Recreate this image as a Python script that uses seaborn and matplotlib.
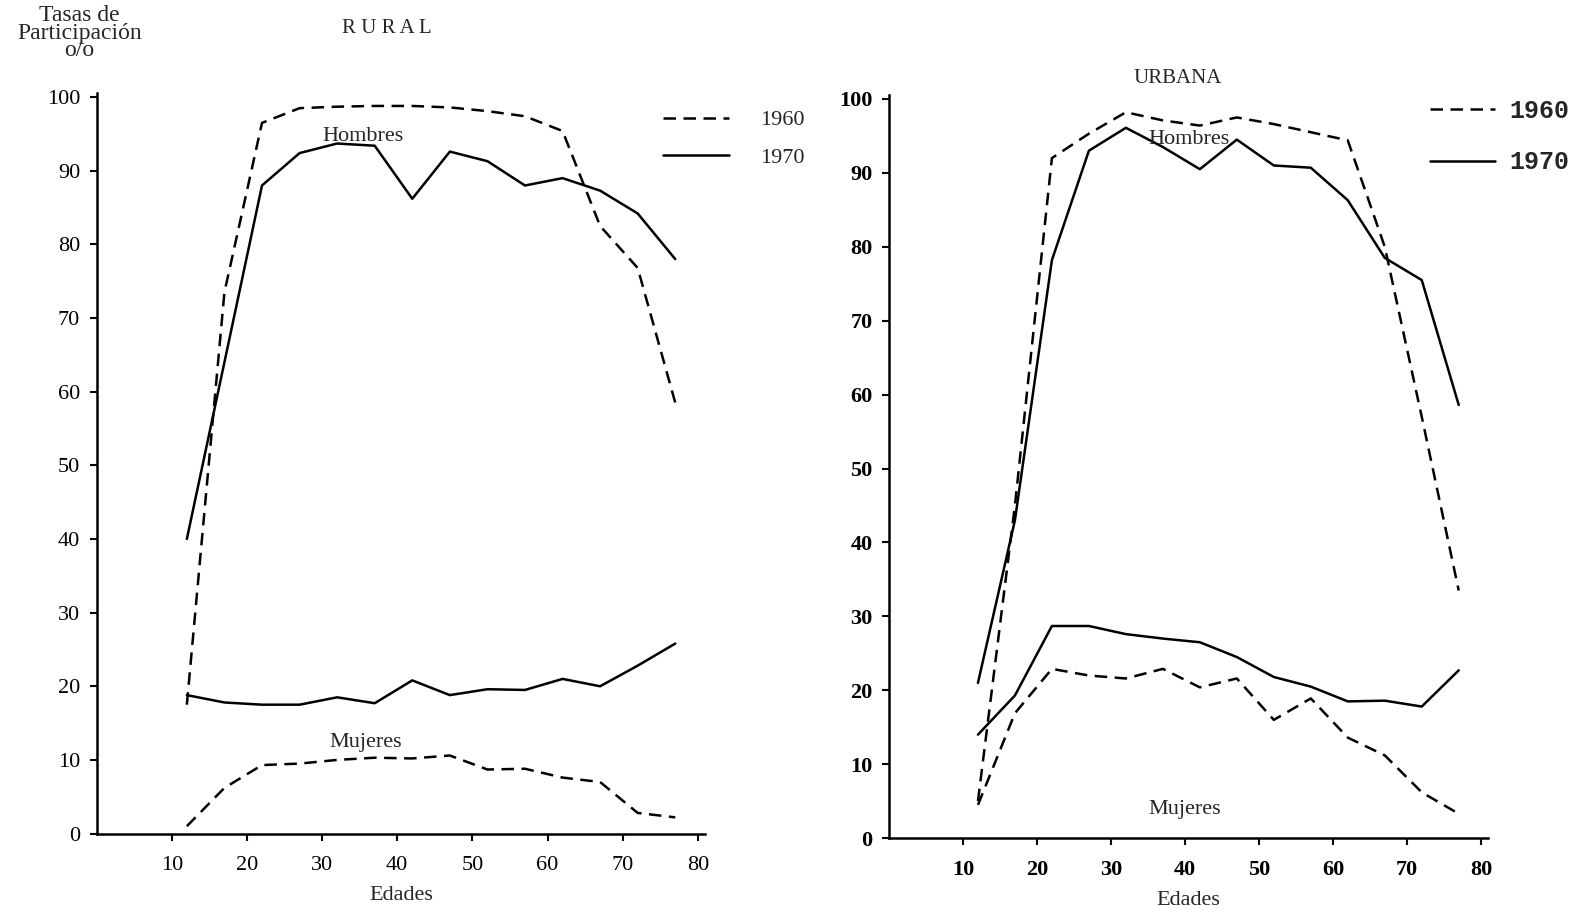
import numpy as np
import pandas as pd
import matplotlib
matplotlib.use('Agg')
import matplotlib.pyplot as plt
from matplotlib.lines import Line2D
import seaborn as sns

sns.set_theme(style='ticks')
plt.rcParams['font.family'] = ['Liberation Serif', 'DejaVu Serif']

# ── Datos ─────────────────────────────────────────────────
edades = [12, 17, 22, 27, 32, 37, 42, 47, 52, 57, 62, 67, 72, 77]

rural_h_1960 = [17.5, 73.5, 96.5, 98.5, 98.7, 98.8, 98.8, 98.6, 98.1, 97.4, 95.4, 82.5, 76.8, 58.5]
rural_h_1970 = [40.0, 64.0, 88.0, 92.4, 93.7, 93.4, 86.2, 92.6, 91.3, 88.0, 89.0, 87.3, 84.2, 78.0]
rural_m_1960 = [1.0, 6.2, 9.3, 9.5, 10.0, 10.3, 10.2, 10.6, 8.7, 8.8, 7.6, 7.0, 2.8, 2.2]
rural_m_1970 = [18.8, 17.8, 17.5, 17.5, 18.5, 17.7, 20.8, 18.8, 19.6, 19.5, 21.0, 20.0, 22.8, 25.8]

urb_h_1960 = [5.0, 45.0, 92.0, 95.3, 98.2, 97.1, 96.4, 97.5, 96.6, 95.5, 94.4, 80.0, 57.0, 33.5]
urb_h_1970 = [21.0, 43.0, 78.2, 93.0, 96.1, 93.5, 90.5, 94.5, 91.0, 90.7, 86.3, 78.5, 75.5, 58.6]
urb_m_1960 = [4.5, 16.9, 22.9, 22.0, 21.6, 22.9, 20.4, 21.6, 16.0, 18.9, 13.6, 11.2, 6.2, 3.3]
urb_m_1970 = [14.0, 19.3, 28.7, 28.7, 27.6, 27.0, 26.5, 24.5, 21.8, 20.5, 18.5, 18.6, 17.8, 22.7]

anios = ['1960', '1970']
yticks = list(range(0, 101, 10))
xticks = list(range(10, 81, 10))


def armar_df(h60, h70, m60, m70):
    """Pasa las cuatro series a formato largo para seaborn."""
    partes = []
    for sexo, anio, serie in [('Hombres', '1960', h60), ('Hombres', '1970', h70),
                              ('Mujeres', '1960', m60), ('Mujeres', '1970', m70)]:
        partes.append(pd.DataFrame({'edad': edades, 'tasa': serie,
                                    'sexo': sexo, 'anio': anio}))
    return pd.concat(partes, ignore_index=True)


def dibujar(ax, df, bold=False):
    sns.lineplot(data=df, x='edad', y='tasa', style='anio', style_order=anios,
                 units='sexo', estimator=None, color='black', linewidth=1.8,
                 dashes={'1960': (5, 3), '1970': ''}, legend=False, ax=ax)
    ax.set_xlim(0, 81)
    ax.set_ylim(0, 100.5)
    ax.set_xticks(xticks)
    ax.set_yticks(yticks)
    ax.set_ylabel('')
    ax.set_xlabel('Edades', fontsize=16, labelpad=8)
    for s in ['top', 'right']:
        ax.spines[s].set_visible(False)
    for s in ['left', 'bottom']:
        ax.spines[s].set_linewidth(1.8)
        ax.spines[s].set_color('black')
    ax.tick_params(direction='out', length=5, width=1.5, labelsize=16,
                   colors='black', pad=7)
    ax.tick_params(axis='x', pad=11)
    if bold:
        for t in ax.get_xticklabels() + ax.get_yticklabels():
            t.set_fontweight('bold')


fig = plt.figure(figsize=(15.85, 9.16), dpi=100)
ax_r = fig.add_axes([0.061, 0.090, 0.384, 0.808])
ax_u = fig.add_axes([0.561, 0.085, 0.378, 0.811])

dibujar(ax_r, armar_df(rural_h_1960, rural_h_1970, rural_m_1960, rural_m_1970))
dibujar(ax_u, armar_df(urb_h_1960, urb_h_1970, urb_m_1960, urb_m_1970), bold=True)

# Textos
fig.text(0.050, 0.994, 'Tasas de\nParticipación\no/o', ha='center', va='top',
         fontsize=17, linespacing=0.78)
fig.text(0.244, 0.969, 'R U R A L', ha='center', va='center', fontsize=15)
fig.text(0.743, 0.914, 'URBANA', ha='center', va='center', fontsize=15)
ax_r.text(35.5, 94.6, 'Hombres', ha='center', va='center', fontsize=16)
ax_r.text(35.8, 12.3, 'Mujeres', ha='center', va='center', fontsize=16)
ax_u.text(40.6, 94.5, 'Hombres', ha='center', va='center', fontsize=16)
ax_u.text(40.0, 3.9, 'Mujeres', ha='center', va='center', fontsize=16)

# Leyendas
handles = [Line2D([], [], color='black', linewidth=1.8, dashes=(5, 3)),
           Line2D([], [], color='black', linewidth=1.8)]
ax_r.legend(handles, anios, loc='upper left', bbox_to_anchor=(0.418, 0.880),
            bbox_transform=fig.transFigure, frameon=False, fontsize=16,
            handlelength=3.0, handletextpad=1.4, labelspacing=0.75,
            borderpad=0, borderaxespad=0)
ax_u.legend(handles, anios, loc='upper left', bbox_to_anchor=(0.902, 0.892),
            bbox_transform=fig.transFigure, frameon=False,
            prop={'family': 'Liberation Mono', 'weight': 'bold', 'size': 18},
            handlelength=2.6, handletextpad=0.6, labelspacing=1.1,
            borderpad=0, borderaxespad=0)

fig.savefig('out.png', dpi=100)
